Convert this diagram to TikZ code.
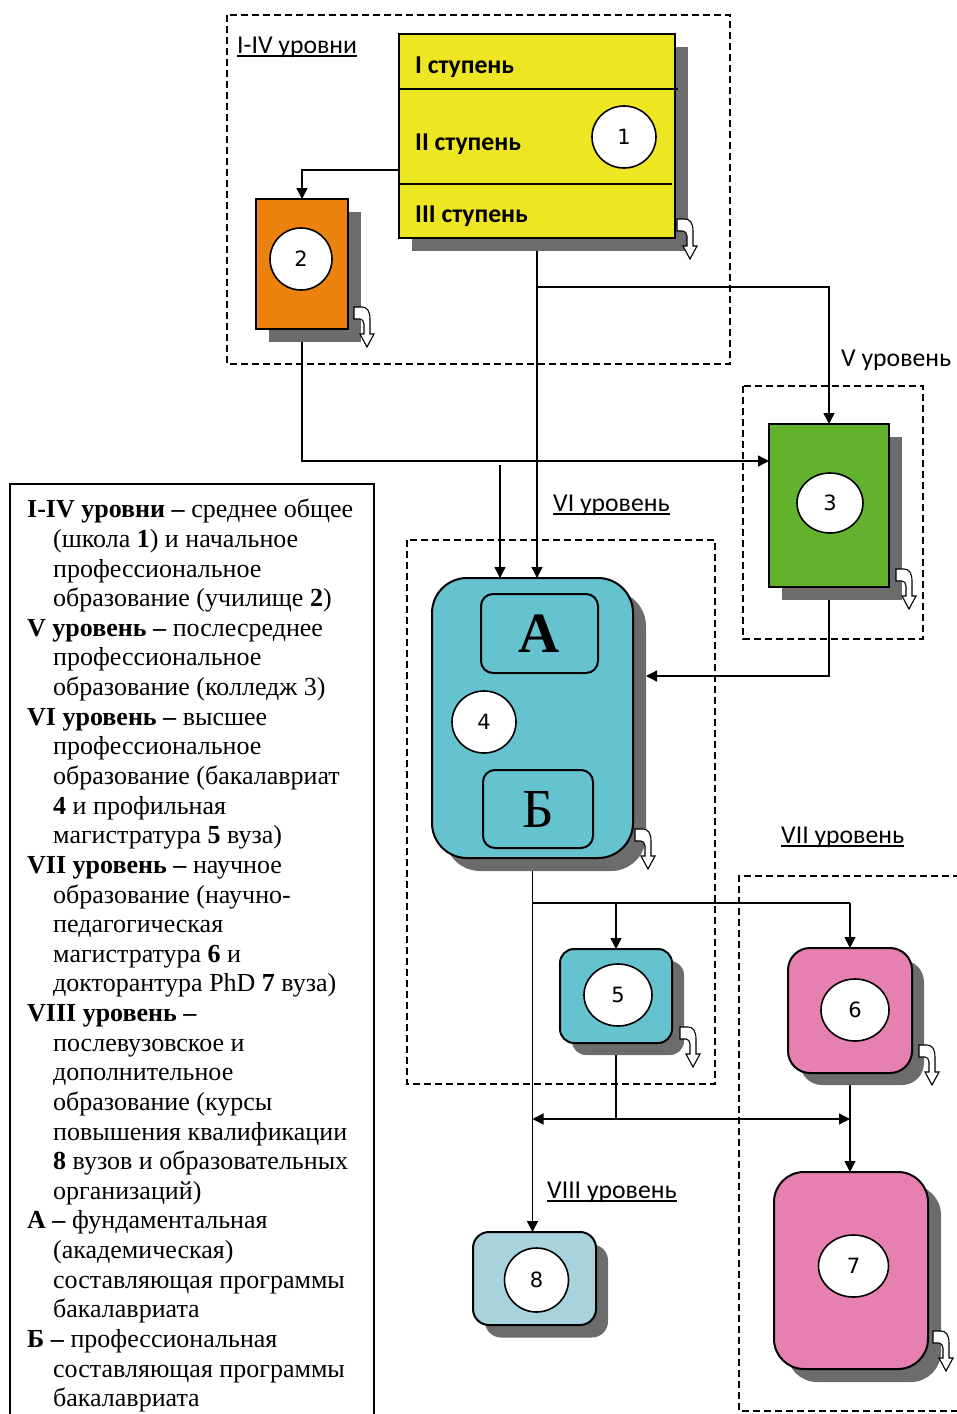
\documentclass[tikz,border=0pt]{standalone}
\usepackage{fontspec}
\setmainfont{Liberation Serif}
\newfontfamily\boxfont{Carlito}
\newfontfamily\numfont{DejaVu Sans}
\usetikzlibrary{arrows.meta,shapes.geometric,calc}
\pgfdeclarelayer{bg}
\pgfsetlayers{bg,main}
\definecolor{cyel}{HTML}{EEE622}
\definecolor{corange}{HTML}{EC8210}
\definecolor{cgreen}{HTML}{62B22E}
\definecolor{cteal}{HTML}{65C3D0}
\definecolor{cpink}{HTML}{E680B0}
\definecolor{clblue}{HTML}{A8D2DE}
\definecolor{cshadow}{HTML}{6C6C6C}
\newcommand\lind{\hspace*{26pt}}
\tikzset{
  curvy/.pic={\draw[line width=1.1pt,fill=white,line join=miter]
    (0,0) -- (8,0) .. controls (13,0) and (16,4) .. (16,12) -- (16,27) -- (20,27)
    -- (13,40) -- (6,27) -- (10,27) -- (10,17) .. controls (10,14) and (8,12) .. (6,12)
    -- (0,12) -- cycle;}
}
\begin{document}
\begin{tikzpicture}[x=1pt,y=-1pt,
  conn/.style={line width=1.4pt},
  arr/.style={conn,-{Triangle[length=11pt,width=11pt]}},
  frame/.style={line width=1.4pt,dash pattern=on 7pt off 4pt},
  sq/.style={draw,line width=2pt,inner sep=0,outer sep=0},
  shade/.style={fill=cshadow,inner sep=0,outer sep=0},
  num/.style={ellipse,draw,line width=1.6pt,fill=white,inner sep=0,font=\numfont\fontsize{21}{25}\selectfont},
  lvl/.style={font=\boxfont\fontsize{25.7}{30}\selectfont,inner sep=0,anchor=base west},
  stage/.style={font=\boxfont\bfseries\fontsize{25.7}{30}\selectfont,inner sep=0,anchor=base west},
  uline/.style={line width=1.4pt}
  ]
\useasboundingbox (0,0) rectangle (957,1414);

% ---------- shadows ----------
\node[shade,minimum width=276pt,minimum height=204pt] (Ys) at (550,149) {};
\node[shade,minimum width=92pt,minimum height=130pt] (Os) at (315,277) {};
\node[shade,minimum width=120pt,minimum height=163pt] (Gs) at (842,518.5) {};
\node[shade,rounded corners=35pt,minimum width=201pt,minimum height=280pt] (B4s) at (545.5,731) {};
\node[shade,rounded corners=14pt,minimum width=112pt,minimum height=94pt] (B5s) at (628,1008) {};
\node[shade,rounded corners=22pt,minimum width=124pt,minimum height=125pt] (B6s) at (862,1022.5) {};
\node[shade,rounded corners=30pt,minimum width=154pt,minimum height=197pt] (B7s) at (864,1283.5) {};
\node[shade,rounded corners=16pt,minimum width=123pt,minimum height=93pt] (B8s) at (546.5,1291) {};

% ---------- boxes ----------
\node[sq,fill=cyel,minimum width=276pt,minimum height=204pt] (Y) at (537,136) {};
\node[sq,fill=corange,minimum width=92pt,minimum height=130pt] (O) at (302,264) {};
\node[sq,fill=cgreen,minimum width=120pt,minimum height=163pt] (G) at (829,505.5) {};
\node[sq,fill=cteal,rounded corners=35pt,minimum width=201pt,minimum height=280pt] (B4) at (532.5,718) {};
\node[sq,fill=cteal,rounded corners=12pt,minimum width=117pt,minimum height=79pt,font=\fontsize{57}{60}\selectfont\bfseries] (A) at (539.5,633.5) {А};
\node[sq,fill=cteal,rounded corners=12pt,minimum width=110pt,minimum height=78pt,font=\fontsize{55}{58}\selectfont] (BB) at (538,809) {Б};
\node[sq,fill=cteal,rounded corners=14pt,minimum width=112pt,minimum height=94pt] (B5) at (616,996) {};
\node[sq,fill=cpink,rounded corners=22pt,minimum width=124pt,minimum height=125pt] (B6) at (850,1010.5) {};
\node[sq,fill=cpink,rounded corners=30pt,minimum width=154pt,minimum height=197pt] (B7) at (851,1270.5) {};
\node[sq,fill=clblue,rounded corners=16pt,minimum width=123pt,minimum height=93pt] (B8) at (534.5,1278.5) {};

% dividers of the yellow box
\draw[line width=1.4pt] ($(Y.north west)+(0,55)$) -- ($(Y.north east)+(3,55)$);
\draw[line width=1.4pt] ($(Y.north west)+(0,150)$) -- ($(Y.north east)+(-3,150)$);
\node[stage] (s1) at (415,73) {I ступень};
\node[stage] (s2) at (415,150) {II ступень};
\node[stage] (s3) at (415,222) {III ступень};

% ---------- numbered circles ----------
\node[num,minimum width=64pt,minimum height=62pt] (n1) at (624,137) {1};
\node[num,minimum width=62pt,minimum height=62pt] (n2) at (301,259) {2};
\node[num,minimum width=66pt,minimum height=60pt] (n3) at (830,503) {3};
\node[num,minimum width=64pt,minimum height=62pt] (n4) at (484,722) {4};
\node[num,minimum width=68pt,minimum height=62pt] (n5) at (618,995) {5};
\node[num,minimum width=68pt,minimum height=62pt] (n6) at (855,1010) {6};
\node[num,minimum width=70pt,minimum height=62pt] (n7) at (853.5,1266) {7};
\node[num,minimum width=64pt,minimum height=64pt] (n8) at (536.5,1280) {8};

% ---------- curved arrow icons ----------
\pic at (677,219) {curvy};
\pic at (354,307) {curvy};
\pic at (896,569) {curvy};
\pic at (635,829) {curvy};
\pic at (680,1027) {curvy};
\pic at (919,1045) {curvy};
\pic at (933,1331) {curvy};

% ---------- level labels ----------
\node[lvl] (l14) at (237,53) {I-IV уровни};
\draw[uline] ($(l14.base west)+(0,3)$) -- ($(l14.base east)+(0,3)$);
\node[lvl] (l5) at (841,366) {V уровень};
\node[lvl] (l6) at (553,511) {VI уровень};
\draw[uline] ($(l6.base west)+(0,3)$) -- ($(l6.base east)+(0,3)$);
\node[lvl] (l7) at (781,843) {VII уровень};
\draw[uline] ($(l7.base west)+(0,3)$) -- ($(l7.base east)+(0,3)$);
\node[lvl] (l8) at (547,1198) {VIII уровень};
\draw[uline] ($(l8.base west)+(0,3)$) -- ($(l8.base east)+(0,3)$);

% ---------- legend ----------
\draw[line width=1.6pt] (10,1420) -- (10,484) -- (374,484) -- (374,1420);
\node[anchor=north west,inner sep=0,align=left,font=\fontsize{26}{29.63}\selectfont] (legend) at (27,499) {%
\textbf{I-IV уровни –} среднее общее\\
\lind(школа \textbf{1}) и начальное\\
\lind профессиональное\\
\lind образование (училище \textbf{2})\\
\textbf{V уровень –} послесреднее\\
\lind профессиональное\\
\lind образование (колледж 3)\\
\textbf{VI уровень –} высшее\\
\lind профессиональное\\
\lind образование (бакалавриат\\
\lind\textbf{4} и профильная\\
\lind магистратура \textbf{5} вуза)\\
\textbf{VII уровень –} научное\\
\lind образование (научно-\\
\lind педагогическая\\
\lind магистратура \textbf{6} и\\
\lind докторантура PhD \textbf{7} вуза)\\
\textbf{VIII уровень –}\\
\lind послевузовское и\\
\lind дополнительное\\
\lind образование (курсы\\
\lind повышения квалификации\\
\lind\textbf{8} вузов и образовательных\\
\lind организаций)\\
\textbf{А –} фундаментальная\\
\lind(академическая)\\
\lind составляющая программы\\
\lind бакалавриата\\
\textbf{Б –} профессиональная\\
\lind составляющая программы\\
\lind бакалавриата};

% ---------- frames and connectors ----------
\begin{pgfonlayer}{bg}
\draw[frame] (227,15) rectangle (730,364);
\draw[frame] (743,386) rectangle (923,639);
\draw[frame] (407,540) rectangle (715,1084);
\draw[frame] (960,876) -- (739,876) -- (739,1411) -- (960,1411);

\draw[arr] ($(Y.west)+(0,34)$) -| (O.north);
\draw[arr] (O.south) |- ($(G.west)+(0,-44.5)$);
\draw[arr] (Y.south) -- (Y.south |- B4.north);
\draw[arr] ($(Y.south)+(0,49)$) -| (G.north);
\coordinate (f4) at (500,465);
\draw[arr] (f4) -- (f4 |- B4.north);
\draw[arr] (G.south) |- ($(B4s.east)+(0,-55)$);
\draw[arr] (A.south) -- (A.south |- BB.north);
\draw[arr] (B4.south) -- (B4.south |- B8.north);
\coordinate (br) at ($(B4.south)+(0,45)$);
\draw[conn] (br) -- (br -| B6.north);
\draw[arr] (br -| B5.north) -- (B5.north);
\draw[arr] (br -| B6.north) -- (B6.north);
\coordinate (j5) at ($(B5.south)+(0,76)$);
\draw[conn] (B5.south) -- (j5);
\draw[arr] (j5) -- (j5 -| B4.south);
\draw[arr] (j5) -- (j5 -| B6.south);
\draw[arr] (B6.south) -- (B6.south |- B7.north);
\end{pgfonlayer}
\end{tikzpicture}
\end{document}
